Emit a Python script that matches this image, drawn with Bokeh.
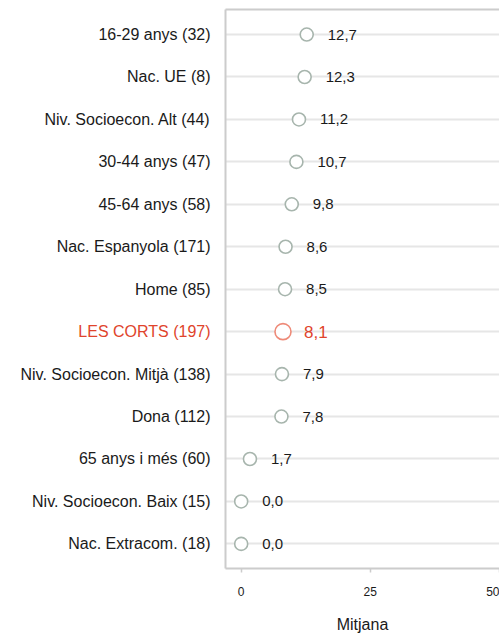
from bokeh.plotting import figure
from bokeh.models import Range1d, FixedTicker, LinearAxis, ColumnDataSource
from bokeh.layouts import row
from bokeh.core.properties import value
from bokeh.embed import file_html
from bokeh.resources import INLINE

categories = ["16-29 anys (32)", "Nac. UE (8)", "Niv. Socioecon. Alt (44)", "30-44 anys (47)",
              "45-64 anys (58)", "Nac. Espanyola (171)", "Home (85)", "LES CORTS (197)",
              "Niv. Socioecon. Mitjà (138)", "Dona (112)", "65 anys i més (60)",
              "Niv. Socioecon. Baix (15)", "Nac. Extracom. (18)"]
values = [12.7, 12.3, 11.2, 10.7, 9.8, 8.6, 8.5, 8.1, 7.9, 7.8, 1.7, 0.0, 0.0]
value_labels = ["12,7", "12,3", "11,2", "10,7", "9,8", "8,6", "8,5", "8,1", "7,9", "7,8", "1,7", "0,0", "0,0"]
highlight = "LES CORTS (197)"
x_ticks = [0, 25, 50]

FONT = "Liberation Sans"
GRAY_M = "#a7b5ad"
RED_M = "#ee8a78"
RED_T = "#e0442c"
TXT = "#1a1a1a"
LINE = "#cccccc"

n = len(categories)
ypos = [n - 1 - i for i in range(n)]
is_h = [c == highlight for c in categories]
mcol = [RED_M if h else GRAY_M for h in is_h]
tcol = [RED_T if h else TXT for h in is_h]
msize = [16 if h else 13 for h in is_h]
tsize = ["17px" if h else "15px" for h in is_h]

src = ColumnDataSource(dict(x=values, y=ypos, lab=value_labels, mc=mcol, tc=tcol,
                            ms=msize, ts=tsize, cat=categories))

y_range = Range1d(-0.58, n - 1 + 0.59)
TOP, BOTTOM = 9, 74
LEFT_W = 224

# ---- left panel: category labels ----
lf = figure(width=LEFT_W, height=642, output_backend="svg", toolbar_location=None,
            x_range=Range1d(0, LEFT_W), y_range=y_range, x_axis_type=None, y_axis_type=None,
            min_border_left=0, min_border_right=0, min_border_top=TOP, min_border_bottom=BOTTOM)
lf.outline_line_color = None
lf.xgrid.visible = False
lf.ygrid.visible = False
lf.text(x=[210] * n, y=ypos, text=categories, text_align="right", text_baseline="middle",
        text_font=value(FONT), text_font_size="16px", text_color=tcol)

# ---- main plot ----
p = figure(width=499 - LEFT_W, height=642, output_backend="svg", toolbar_location=None,
           x_range=Range1d(-3.04, 50.06), y_range=y_range,
           min_border_left=1, min_border_right=0, min_border_top=TOP, min_border_bottom=BOTTOM)
p.outline_line_color = None
p.background_fill_color = "white"
p.border_fill_color = "white"

p.xgrid.visible = False
p.ygrid.grid_line_color = "#e6e6e6"
p.ygrid.grid_line_width = 2

p.yaxis.ticker = FixedTicker(ticks=ypos)
p.yaxis.major_label_overrides = {y: "" for y in ypos}
p.yaxis.major_label_text_font_size = "0px"
p.yaxis.major_label_standoff = 0
p.yaxis.major_tick_line_color = None
p.yaxis.minor_tick_line_color = None
p.yaxis.major_tick_out = 0
p.yaxis.axis_line_color = LINE
p.yaxis.axis_line_width = 2

p.xaxis.ticker = FixedTicker(ticks=x_ticks)
p.xaxis.axis_line_color = LINE
p.xaxis.axis_line_width = 2
p.xaxis.major_tick_line_color = LINE
p.xaxis.major_tick_line_width = 1.5
p.xaxis.major_tick_in = 0
p.xaxis.major_tick_out = 4
p.xaxis.minor_tick_line_color = None
p.xaxis.major_label_standoff = 14
p.xaxis.major_label_text_font = FONT
p.xaxis.major_label_text_font_size = "12px"
p.xaxis.major_label_text_color = TXT
p.xaxis.axis_label = "Mitjana"
p.xaxis.axis_label_text_font = FONT
p.xaxis.axis_label_text_font_size = "16px"
p.xaxis.axis_label_text_font_style = "normal"
p.xaxis.axis_label_text_color = TXT
p.xaxis.axis_label_standoff = 17

top = LinearAxis(ticker=FixedTicker(ticks=[]), axis_line_color=LINE, axis_line_width=2,
                 major_tick_line_color=None, minor_tick_line_color=None,
                 major_label_standoff=0, major_label_text_font_size="0px")
p.add_layout(top, "above")

p.scatter("x", "y", source=src, size="ms", marker="circle", fill_color="white",
          line_color="mc", line_width=1.6)
p.text("x", "y", text="lab", source=src, x_offset=21, text_baseline="middle",
       text_align="left", text_font=value(FONT), text_font_size="ts", text_color="tc")

layout = row(lf, p, spacing=0)
open("out.html", "w").write(file_html(layout, INLINE))
